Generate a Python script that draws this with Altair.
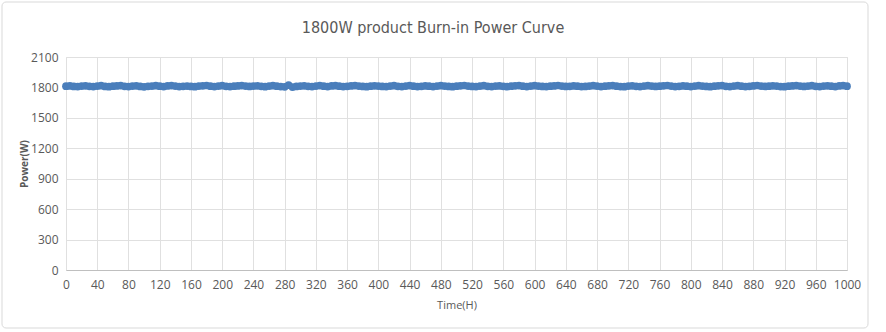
import altair as alt
import pandas as pd

# Time (H), one reading every 5 hours
hours = list(range(0, 1001, 5))

# Power (W) readings
power = [
    1812, 1815, 1810, 1808, 1814, 1816, 1811, 1809, 1813, 1817,
    1810, 1807, 1812, 1815, 1818, 1811, 1808, 1813, 1816, 1810,
    1806, 1811, 1814, 1817, 1812, 1809, 1815, 1818, 1813, 1808,
    1811, 1814, 1810, 1807, 1813, 1816, 1819, 1812, 1809, 1814,
    1817, 1811, 1808, 1812, 1815, 1818, 1813, 1810, 1814, 1816,
    1811, 1807, 1813, 1817, 1812, 1809, 1806, 1822, 1803, 1810,
    1813, 1816, 1811, 1808, 1814, 1818, 1812, 1809, 1815, 1817,
    1812, 1808, 1811, 1815, 1818, 1813, 1810, 1807, 1812, 1816,
    1814, 1810, 1808, 1813, 1817, 1811, 1809, 1814, 1818, 1812,
    1808, 1811, 1815, 1812, 1809, 1813, 1817, 1814, 1810, 1807,
    1812, 1816, 1819, 1813, 1810, 1808, 1814, 1817, 1811, 1809,
    1813, 1815, 1811, 1807, 1812, 1816, 1818, 1812, 1809, 1814,
    1817, 1813, 1810, 1808, 1812, 1815, 1819, 1814, 1810, 1811,
    1815, 1812, 1808, 1810, 1814, 1817, 1813, 1809, 1812, 1816,
    1818, 1812, 1809, 1807, 1813, 1816, 1811, 1808, 1814, 1817,
    1813, 1810, 1812, 1816, 1819, 1813, 1809, 1811, 1815, 1812,
    1808, 1813, 1817, 1814, 1810, 1807, 1812, 1816, 1818, 1811,
    1809, 1814, 1817, 1812, 1808, 1811, 1815, 1819, 1814, 1810,
    1812, 1816, 1813, 1809, 1807, 1812, 1815, 1818, 1813, 1810,
    1814, 1817, 1811, 1808, 1813, 1816, 1812, 1809, 1815, 1818,
    1812,
]

y_ticks = [0, 300, 600, 900, 1200, 1500, 1800, 2100]
x_ticks = list(range(0, 1001, 40))

title_text = "1800W product Burn-in Power Curve"
x_title = "Time(H)"
y_title = "Power(W)"

df = pd.DataFrame({"Time": hours, "Power": power})

FONT = "DejaVu Sans Condensed, Liberation Sans Narrow, sans-serif"
LFONT = "Open Sans, sans-serif"
GREY = "#595959"

frame = alt.Chart(pd.DataFrame({"k": [0]})).mark_rect(
    fill=None, stroke="#d9d9d9", strokeWidth=1, cornerRadius=4, clip=False
).encode(
    x=alt.value(-64), x2=alt.value(802), y=alt.value(-55), y2=alt.value(271)
)

title = alt.Chart(pd.DataFrame({"t": [title_text]})).mark_text(
    font=FONT, fontSize=16, color=GREY, align="center", baseline="middle", clip=False
).encode(
    text="t:N", x=alt.value(367), y=alt.value(-29)
)

points = alt.Chart(df).mark_circle(size=60, opacity=1, color="#4a7ebb").encode(
    x=alt.X(
        "Time:Q",
        scale=alt.Scale(domain=[0, 1000], nice=False, zero=False),
        axis=alt.Axis(
            title=x_title,
            values=x_ticks,
            format="d",
            labelOverlap=False,
            labelFlush=False,
            ticks=False,
            domainColor="#bfbfbf",
            gridColor="#e0e0e0",
            labelColor=GREY,
            titleColor=GREY,
            labelFont=LFONT,
            titleFont=LFONT,
            labelFontSize=12,
            titleFontSize=11,
            titleFontWeight="normal",
            labelPadding=9,
            titlePadding=9,
        ),
    ),
    y=alt.Y(
        "Power:Q",
        scale=alt.Scale(domain=[0, 2100], nice=False),
        axis=alt.Axis(
            title=y_title,
            values=y_ticks,
            format="d",
            ticks=False,
            domain=False,
            gridColor="#e0e0e0",
            labelColor=GREY,
            titleColor=GREY,
            labelFont=LFONT,
            titleFont=LFONT,
            labelFontSize=12,
            titleFontSize=10,
            titleFontWeight="bold",
            labelPadding=8,
            titlePadding=1,
        ),
    ),
)

chart = alt.layer(frame, points, title).properties(
    width=781,
    height=213,
    autosize=alt.AutoSizeParams(type="none"),
    padding={"left": 66, "top": 57, "right": 39, "bottom": 62},
).configure_view(stroke=None).configure(background="white")

chart.save("out.html", embed_options={"renderer": "svg", "actions": False})
